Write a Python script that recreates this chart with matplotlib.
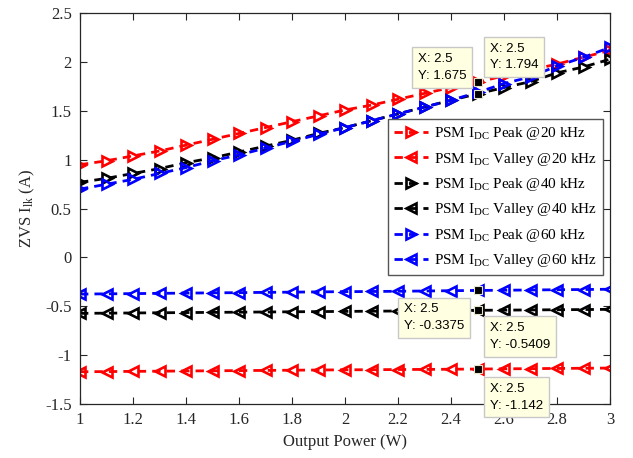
import matplotlib
matplotlib.use('Agg')
import matplotlib.pyplot as plt

plt.rcParams['font.family'] = 'Liberation Serif'
plt.rcParams['mathtext.fontset'] = 'custom'
plt.rcParams['mathtext.rm'] = 'Liberation Serif'
plt.rcParams['mathtext.it'] = 'Liberation Serif:italic'
plt.rcParams['axes.unicode_minus'] = False

# output power (W)
power = [1.0, 1.1, 1.2, 1.3, 1.4, 1.5, 1.6, 1.7, 1.8, 1.9, 2.0,
         2.1, 2.2, 2.3, 2.4, 2.5, 2.6, 2.7, 2.8, 2.9, 3.0]

# PSM IDC peak / valley currents (A)
peak20 = [0.95, 0.99, 1.04, 1.09, 1.15, 1.21, 1.27, 1.33, 1.39, 1.45, 1.51,
          1.56, 1.62, 1.68, 1.74, 1.794, 1.86, 1.92, 1.98, 2.05, 2.12]
valley20 = [-1.17, -1.168, -1.166, -1.164, -1.162, -1.16, -1.158, -1.156, -1.154, -1.152, -1.15,
            -1.149, -1.147, -1.146, -1.144, -1.142, -1.14, -1.138, -1.136, -1.134, -1.132]
peak40 = [0.77, 0.81, 0.86, 0.91, 0.97, 1.02, 1.08, 1.14, 1.20, 1.27, 1.33,
          1.40, 1.47, 1.54, 1.61, 1.675, 1.74, 1.80, 1.89, 1.95, 2.03]
valley40 = [-0.572, -0.57, -0.568, -0.566, -0.564, -0.562, -0.56, -0.558, -0.556, -0.554, -0.552,
            -0.55, -0.548, -0.546, -0.543, -0.5409, -0.539, -0.537, -0.535, -0.533, -0.531]
peak60 = [0.70, 0.75, 0.80, 0.86, 0.92, 0.99, 1.05, 1.12, 1.19, 1.26, 1.33,
          1.40, 1.47, 1.54, 1.61, 1.69, 1.78, 1.85, 1.96, 2.05, 2.15]
valley60 = [-0.375, -0.372, -0.37, -0.367, -0.365, -0.362, -0.36, -0.357, -0.355, -0.352, -0.35,
            -0.348, -0.346, -0.343, -0.34, -0.3375, -0.335, -0.333, -0.33, -0.328, -0.325]

series = [
    (peak20, 'r', '>', r'PSM I$_{\mathrm{DC}}$ Peak @20 kHz'),
    (valley20, 'r', '<', r'PSM I$_{\mathrm{DC}}$ Valley @20 kHz'),
    (peak40, 'k', '>', r'PSM I$_{\mathrm{DC}}$ Peak @40 kHz'),
    (valley40, 'k', '<', r'PSM I$_{\mathrm{DC}}$ Valley @40 kHz'),
    (peak60, 'b', '>', r'PSM I$_{\mathrm{DC}}$ Peak @60 kHz'),
    (valley60, 'b', '<', r'PSM I$_{\mathrm{DC}}$ Valley @60 kHz'),
]

# data tips: (y value, offset in pixels, ha, va)
tips = [
    (1.675, (-11, 12), 'right', 'bottom'),
    (1.794, (12, 11), 'left', 'bottom'),
    (-0.3375, (-13, -13), 'right', 'top'),
    (-0.5409, (12, -12), 'left', 'top'),
    (-1.142, (12, -14), 'left', 'top'),
]
tip_x = 2.5

fig = plt.figure(figsize=(6.33, 4.58), dpi=100)
ax = fig.add_axes([0.1264, 0.1179, 0.8373, 0.8531])

for vals, col, mk, lab in series:
    ax.plot(power, vals, color=col, ls=(0, (3, 2.2)), lw=2, marker=mk, ms=7,
            mfc='none', mec=col, mew=1.9, label=lab)

for yv, off, ha, va in tips:
    ax.plot(tip_x, yv, 's', color='k', ms=5.5, mec='#E8E6C8', mew=0.8, zorder=5)
    ax.annotate('X: %g\nY: %s' % (tip_x, repr(yv)), xy=(tip_x, yv), xytext=off,
                textcoords='offset pixels', ha=ha, va=va, multialignment='left',
                fontsize=9.5, family='Liberation Sans', linespacing=1.5, color='k',
                bbox=dict(boxstyle='square,pad=0.45', fc='#FFFFE1', ec='#C8C8C8', lw=1),
                zorder=6, annotation_clip=False)

ax.set_xlim(1, 3)
ax.set_ylim(-1.5, 2.5)
ax.set_xticks([1, 1.2, 1.4, 1.6, 1.8, 2, 2.2, 2.4, 2.6, 2.8, 3])
ax.set_xticklabels(['1', '1.2', '1.4', '1.6', '1.8', '2', '2.2', '2.4', '2.6', '2.8', '3'])
ax.set_yticks([-1.5, -1, -0.5, 0, 0.5, 1, 1.5, 2, 2.5])
ax.set_yticklabels(['-1.5', '-1', '-0.5', '0', '0.5', '1', '1.5', '2', '2.5'])
ax.tick_params(direction='in', top=True, right=True, labelsize=12,
               colors='#262626', length=5, width=0.8, pad=6)
for s in ax.spines.values():
    s.set_color('#262626')
    s.set_linewidth(0.9)

ax.set_xlabel('Output Power (W)', fontsize=12, color='#262626', labelpad=4)
ax.set_ylabel(r'ZVS I$_{\mathrm{lk}}$ (A)', fontsize=12, color='#262626', labelpad=6)

leg = ax.legend(loc='upper right', bbox_to_anchor=(0.987, 0.729), borderaxespad=0,
                fontsize=11, fancybox=False, edgecolor='#555555', framealpha=1,
                handlelength=2.2, handletextpad=0.4, labelspacing=0.55, borderpad=0.4)
leg.get_frame().set_linewidth(1)

fig.savefig('out.png', dpi=100)
